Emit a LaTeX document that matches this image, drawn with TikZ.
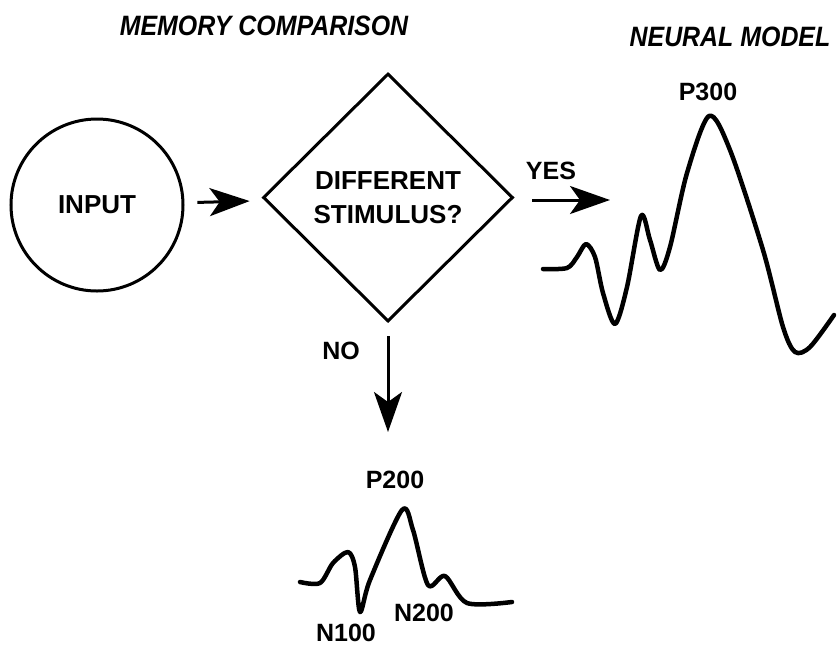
\documentclass[tikz,border=0pt]{standalone}
\usepackage{fontspec}
\setmainfont{Liberation Sans}
\usetikzlibrary{arrows.meta, shapes.geometric}

\newcommand{\narrow}[1]{\scalebox{0.89}[1]{#1}}

\tikzset{
  outline/.style={draw, line width=3pt},
  bigtext/.style={font=\bfseries\fontsize{26}{34}\selectfont, align=center},
  lbl/.style={font=\bfseries\fontsize{25}{30}\selectfont, inner sep=0pt},
  headline/.style={font=\bfseries\itshape\fontsize{28}{32}\selectfont, inner sep=0pt},
  flow/.style={line width=3pt, -{Stealth[length=40pt, width=28pt, inset=10pt]}},
  wave/.style={line width=4.5pt, line cap=round, line join=round}
}

\begin{document}
\begin{tikzpicture}[x=1pt, y=-1pt]
  \useasboundingbox (0,0) rectangle (840,646);

  % headings
  \node[headline] (memhead) at (264,26) {\narrow{MEMORY COMPARISON}};
  \node[headline] (neurhead) at (730,37) {\narrow{NEURAL MODEL}};

  % input and decision
  \node[circle, outline, bigtext, minimum size=172pt, inner sep=0pt] (input) at (97,205) {INPUT};
  \node[diamond, outline, bigtext, minimum width=250pt, minimum height=248pt, inner sep=0pt] (diff) at (388,197.5) {DIFFERENT\\STIMULUS?};

  % connectors
  \draw[flow, shorten <=13pt, shorten >=15pt] (input) -- (diff);
  \coordinate (yesend) at (610,200);
  \coordinate (yesstart) at (532,200);
  \draw[flow] (yesstart) -- (yesend);
  \coordinate (noend) at (388,432);
  \draw[flow, shorten <=13pt] (diff.south) -- (noend);

  \node[lbl] (yes) at (551,171) {YES};
  \node[lbl] (no) at (341,351) {NO};

  % large waveform
  \draw[wave] plot[smooth, tension=0.5] coordinates {
    (543,269) (567,268) (577,257) (586,244) (595,257) (603,293) (615,324)
    (627,287) (641,216) (650,240) (660,270) (670,247) (687,173) (709,116)
    (730,150) (763,250) (783,327) (795,352) (810,347) (834,315)};
  \node[lbl] (p300) at (708,92) {P300};

  % small waveform
  \draw[wave] plot[smooth, tension=0.5] coordinates {
    (300,582) (320,583) (333,563) (348,552) (355,567) (360,612) (370,580)
    (402,510) (413,530) (428,585) (445,576) (467,603) (512,602)};
  \node[lbl] (p200) at (395,480) {P200};
  \node[lbl] (n100) at (346,633) {N100};
  \node[lbl] (n200) at (424,613) {N200};
\end{tikzpicture}
\end{document}
